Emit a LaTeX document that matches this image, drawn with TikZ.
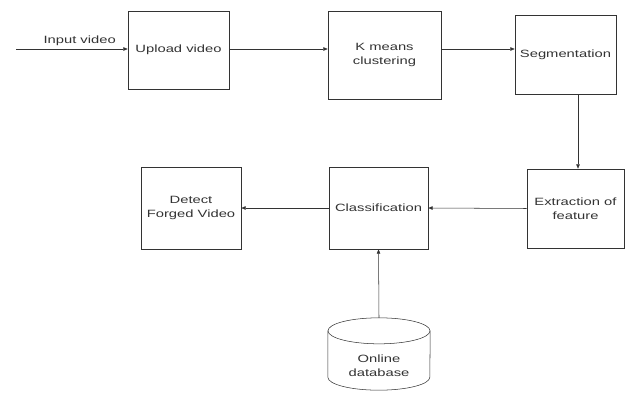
\documentclass[tikz,border=0pt]{standalone}
\usepackage{fontspec}
\setmainfont[FakeStretch=1.4]{Liberation Sans}
\usetikzlibrary{arrows.meta}
\tikzset{%
block/.style={draw=black!80,line width=0.6pt,align=center,inner sep=1pt},
dbbox/.style={align=center,inner sep=1pt,minimum width=4.08cm,minimum height=2.88cm,text height=52pt},
dbline/.style={draw=black!80,line width=0.6pt},
link/.style={draw=black!80,line width=0.6pt,-{Triangle[length=5pt,width=4pt]}},
}

\begin{document}
\begin{tikzpicture}[x=0.04cm,y=-0.04cm,
                    every node/.append style={font=\fontsize{12}{16.5}\selectfont,text=black!80}]

\useasboundingbox (0,0) rectangle (630,394);

\node[block,minimum width=4.04cm,minimum height=3.12cm] (upload) at (178.5,50) {Upload video};
\node[block,minimum width=4.52cm,minimum height=3.52cm] (kmeans) at (384.5,55) {K means\\clustering};
\node[block,minimum width=4.04cm,minimum height=3.16cm] (segm) at (565.5,54.5) {Segmentation};
\node[block,minimum width=3.88cm,minimum height=3.16cm] (extract) at (575.5,208.5) {Extraction of\\feature};
\node[block,minimum width=3.96cm,minimum height=3.28cm] (classif) at (378.5,208) {Classification};
\node[block,minimum width=4.0cm,minimum height=3.28cm] (detect) at (191,208) {Detect\\Forged Video};
\node[dbbox] (db) at (379,354) {Online\\database};

% database drum
\draw[dbline] ([yshift=-0.52cm]db.north) ellipse [x radius=2.04cm, y radius=0.52cm];
\draw[dbline] ([yshift=-0.52cm]db.north west) -- ([yshift=0.52cm]db.south west)
      arc [start angle=180, end angle=360, x radius=2.04cm, y radius=0.52cm]
      -- ([yshift=-0.52cm]db.north east);

\coordinate (in) at (16,49);

\draw[link] (in) -- node[above,pos=0.57] {Input video} (upload.west |- in);
\draw[link] (upload.east |- in) -- (kmeans.west |- in);
\draw[link] (kmeans.east |- in) -- (segm.west |- in);
\draw[link] (segm.south -| 578,0) -- (extract.north -| 578,0);
\draw[link] (extract.west) -- (classif.east);
\draw[link] (classif.west) -- (detect.east);
\draw[link] (db.north) -- (classif.south);
\end{tikzpicture}
\end{document}
